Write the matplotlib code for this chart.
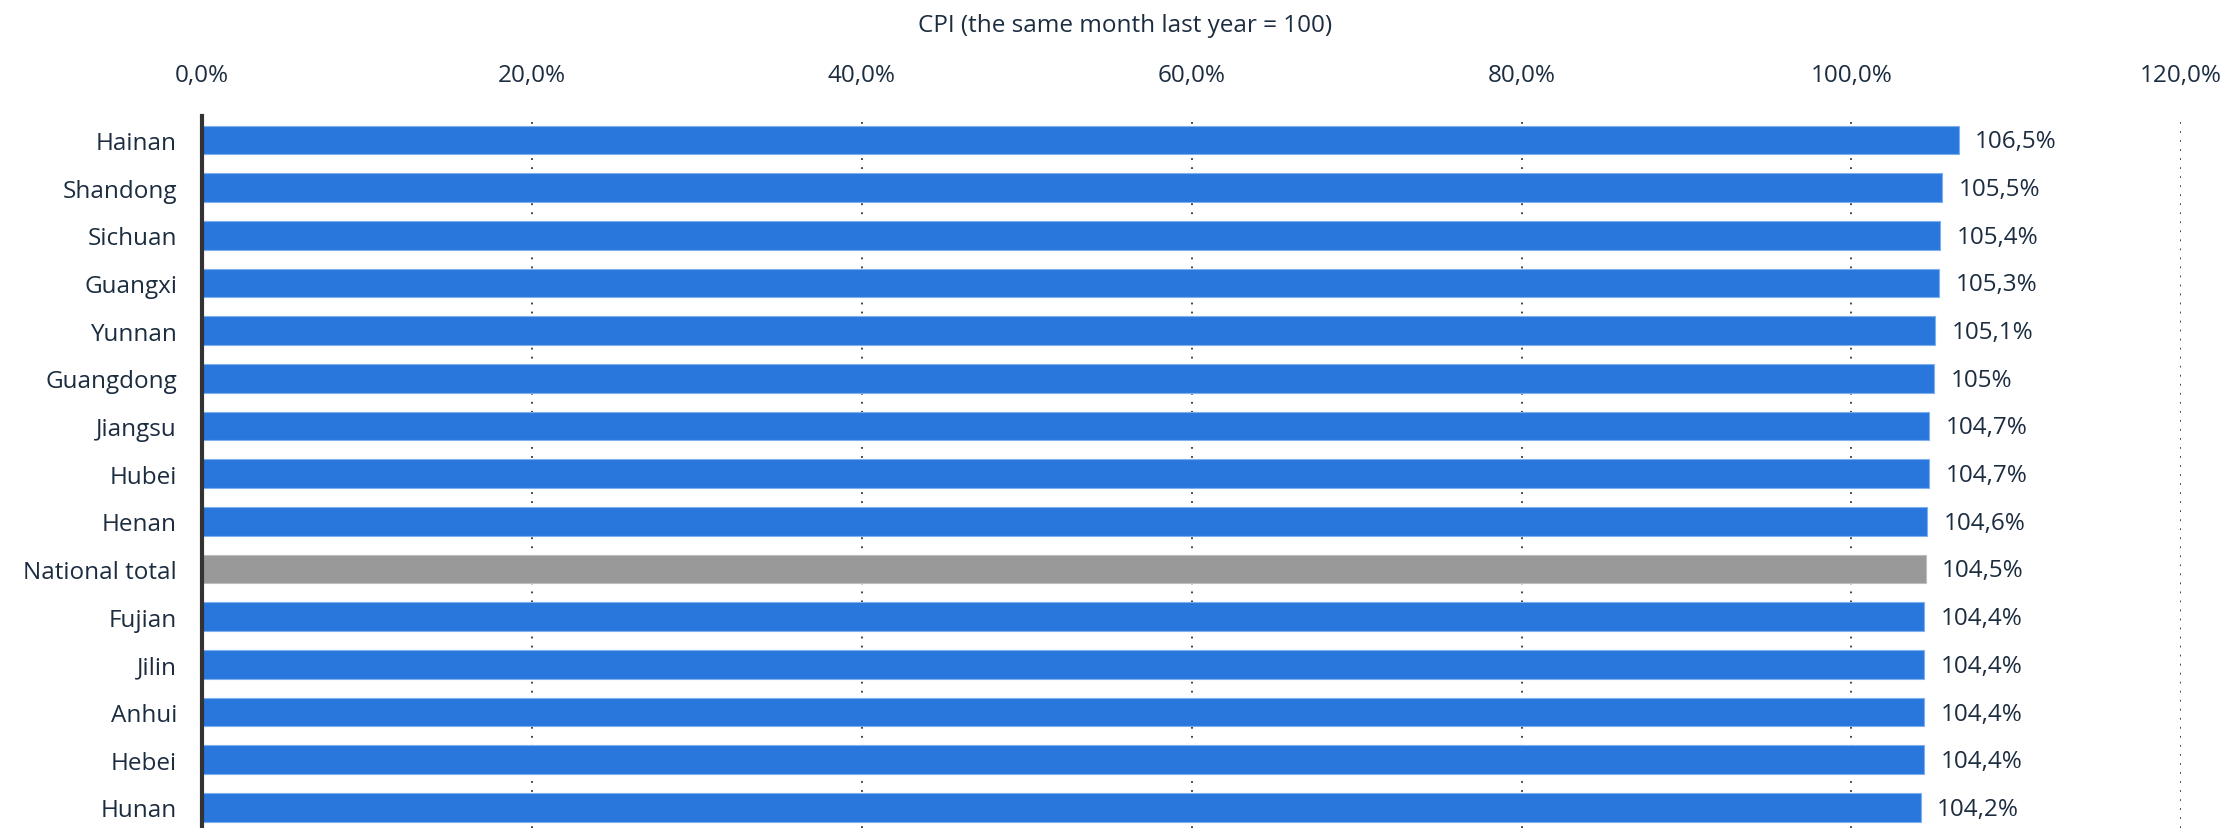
import matplotlib
matplotlib.use("Agg")
import matplotlib.pyplot as plt
from matplotlib.ticker import FuncFormatter

regions = ["Hainan", "Shandong", "Sichuan", "Guangxi", "Yunnan", "Guangdong",
           "Jiangsu", "Hubei", "Henan", "National total", "Fujian", "Jilin",
           "Anhui", "Hebei", "Hunan"]
values = [106.5, 105.5, 105.4, 105.3, 105.1, 105.0, 104.7, 104.7, 104.6,
          104.5, 104.4, 104.4, 104.4, 104.4, 104.2]
highlight = "National total"
xticks = [0, 20, 40, 60, 80, 100, 120]
title = "CPI (the same month last year = 100)"

plt.rcParams['font.family'] = ['Open Sans', 'DejaVu Sans']
text_color = "#1c2d40"
blue = "#2976dc"
grey = "#999999"
fs = 17.5

fig = plt.figure(figsize=(22.28, 8.29), dpi=100)
ax = fig.add_axes([0.0907, 0.0, 0.979 - 0.0907, 1 - 117 / 829])

ypos = list(range(len(regions)))
colors = [grey if r == highlight else blue for r in regions]
edges = ["#bdbdbd" if r == highlight else "#7fb0ee" for r in regions]
ax.barh(ypos, values, height=0.6, color=colors, edgecolor=edges, linewidth=0.8, zorder=2)

def fmt_val(v):
    if abs(v - round(v)) < 1e-9:
        return f"{int(round(v))}%"
    return f"{v:.1f}".replace(".", ",") + "%"

for y, v in zip(ypos, values):
    ax.annotate(fmt_val(v), xy=(v, y), xytext=(12, -1), textcoords="offset points",
                va="center", ha="left", fontsize=fs, color=text_color)

ax.set_xlim(0, 120)
ax.set_ylim(14.43, -0.5)
ax.set_xticks(xticks)
ax.xaxis.set_major_formatter(FuncFormatter(lambda x, p: f"{x:.1f}".replace(".", ",") + "%"))
ax.xaxis.tick_top()
ax.tick_params(axis="x", length=0, pad=21, labelsize=fs, labelcolor=text_color)
ax.set_yticks(ypos)
ax.set_yticklabels(regions)
ax.tick_params(axis="y", length=0, pad=18, labelsize=fs, labelcolor=text_color)

ax.grid(axis="x", color="#333333", linestyle=(0, (1, 4)), linewidth=1.3, zorder=1)
ax.grid(axis="y", visible=False)
for s in ["top", "right", "bottom"]:
    ax.spines[s].set_visible(False)
ax.spines["left"].set_color("#333333")
ax.spines["left"].set_linewidth(3)
ax.spines["left"].set_zorder(3)
ax.set_axisbelow(True)

fig.text(0.505, 1 - 26 / 829, title, ha="center", va="center", fontsize=fs, color=text_color)

fig.savefig("out.png", dpi=100)
